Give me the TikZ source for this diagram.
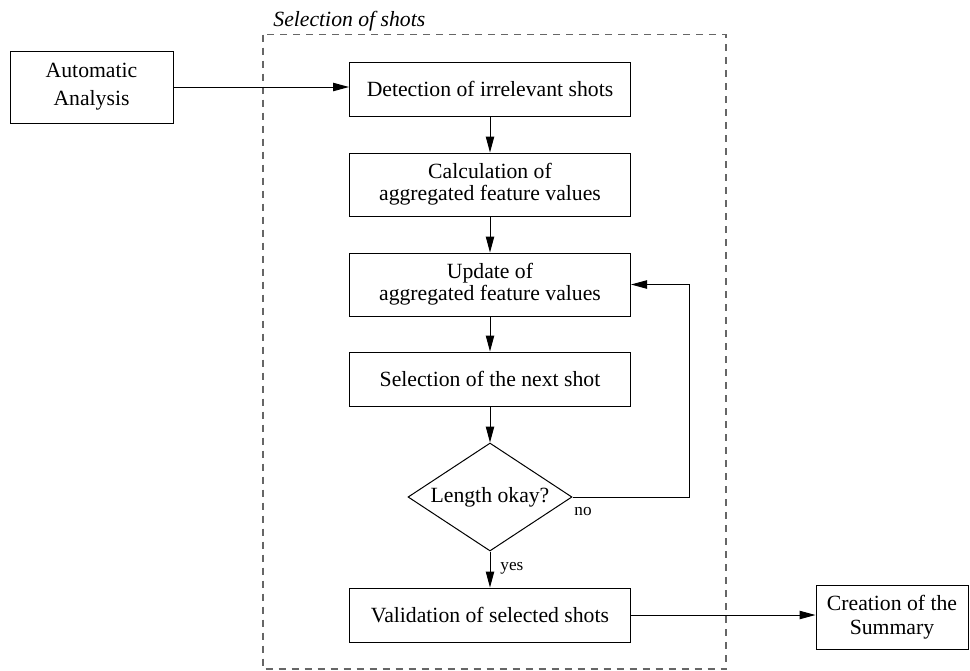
\documentclass[tikz,border=0pt]{standalone}
\usepackage{fontspec}
\setmainfont{Liberation Serif}
\usetikzlibrary{shapes.geometric,arrows.meta}
\begin{document}
\begin{tikzpicture}[x=0.5pt,y=-0.5pt,
  every node/.style={font=\fontsize{10.85pt}{11pt}\selectfont},
  box/.style={draw=black,line width=0.5pt,rectangle,align=center,inner sep=0pt,minimum width=140.5pt,minimum height=27pt},
  tallbox/.style={box,minimum height=31.5pt},
  decision/.style={draw=black,line width=0.5pt,diamond,inner sep=0pt,aspect=1.5,minimum width=82pt,minimum height=54pt,align=center},
  conn/.style={draw=black,line width=0.5pt,-{Triangle[length=8pt,width=4.2pt]}},
  lbl/.style={font=\fontsize{8.6pt}{9pt}\selectfont,inner sep=0pt},
  grp/.style={draw=black!60,line width=0.6pt,dash pattern=on 3.5pt off 3pt}]
\useasboundingbox (0,0) rectangle (970,670);
% group frame
\coordinate (gtl) at (263,34.5);
\coordinate (gbr) at (726,669);
\draw[grp] (gtl) rectangle (gbr);
\node[anchor=base west,inner sep=0pt,font=\fontsize{10.85pt}{11pt}\selectfont\itshape] (gtitle) at (273,26.5) {Selection of shots};
% nodes
\node[box,minimum width=81.5pt,minimum height=36pt,font=\fontsize{10.85pt}{14pt}\selectfont] (auto) at (91.5,87) {Automatic\\Analysis};
\node[box] (detect) at (490,89) {Detection of irrelevant shots};
\node[tallbox] (calcu) at (490,184.5) {Calculation of\\aggregated feature values};
\node[tallbox] (update) at (490,284.5) {Update of\\aggregated feature values};
\node[box] (select) at (490,379) {Selection of the next shot};
\node[decision] (dia) at (490,497) {Length okay?};
\node[box] (valid) at (490,615) {Validation of selected shots};
\node[box,minimum width=76pt,minimum height=32pt,font=\fontsize{10.85pt}{12pt}\selectfont] (create) at (892,617) {Creation of the\\Summary};
% connectors
\draw[conn] (auto.east) -- (auto.east -| detect.west);
\draw[conn] (detect.south) -- (calcu.north);
\draw[conn] (calcu.south) -- (update.north);
\draw[conn] (update.south) -- (select.north);
\draw[conn] (select.south) -- (dia.north);
\draw[conn] (dia.south) -- (valid.north);
\coordinate (fb) at (689,497);
\draw[conn] (dia.east) -- (fb) |- (update.east);
\draw[conn] (valid.east) -- (valid.east -| create.west);
% labels
\node[lbl,anchor=base west] (nolbl) at (574,515) {no};
\node[lbl,anchor=base west] (yeslbl) at (500,570) {yes};
\end{tikzpicture}
\end{document}
